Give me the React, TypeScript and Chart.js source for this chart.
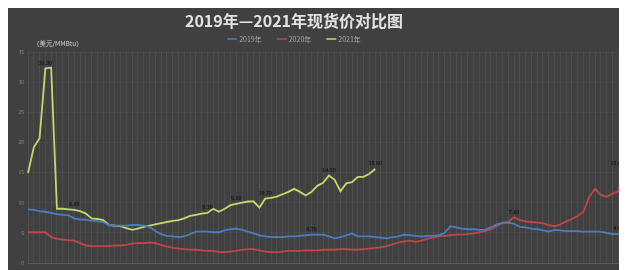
import { useEffect, useRef } from 'react';
import { Chart, registerables } from 'chart.js';

Chart.register(...registerables);

const TITLE = '2019年—2021年现货价对比图';
const UNIT = '（美元/MMBtu）';
const seriesNames = ['2019年', '2020年', '2021年'];
const seriesColors = ['#4b7cc0', '#c04545', '#c0da6c'];

const yTicks = [0, 5, 10, 15, 20, 25, 30, 35];

// half-week sampling points through the year
const categories = Array.from({ length: 104 }, (_, i) => `第${Math.floor(i / 2) + 1}周${i % 2 ? '下' : '上'}`);

const price2019 = [
  8.9, 8.8, 8.6, 8.5, 8.3, 8.1, 8.0, 7.9, 7.4, 7.2,
  7.2, 7.0, 6.9, 6.8, 6.3, 6.2, 6.2, 6.2, 6.3, 6.3,
  6.2, 6.0, 5.3, 4.8, 4.5, 4.4, 4.3, 4.4, 4.8, 5.2,
  5.2, 5.2, 5.1, 5.1, 5.4, 5.6, 5.7, 5.5, 5.2, 4.9,
  4.6, 4.4, 4.3, 4.3, 4.3, 4.4, 4.4, 4.5, 4.6, 4.7,
  4.7, 4.7, 4.4, 4.1, 4.3, 4.6, 4.9, 4.4, 4.4, 4.4,
  4.3, 4.2, 4.1, 4.3, 4.4, 4.7, 4.6, 4.5, 4.4, 4.5,
  4.5, 4.6, 5.0, 6.1, 5.9, 5.7, 5.6, 5.6, 5.5, 5.5,
  5.9, 6.4, 6.6, 6.7, 6.5, 6.0, 5.9, 5.7, 5.6, 5.4,
  5.2, 5.5, 5.4, 5.3, 5.3, 5.3, 5.2, 5.2, 5.2, 5.2,
  5.0, 4.8, 4.8, 4.9,
];

const price2020 = [
  5.1, 5.1, 5.1, 5.1, 4.3, 4.0, 3.9, 3.8, 3.7, 3.3,
  2.9, 2.8, 2.8, 2.8, 2.8, 2.9, 2.9, 3.0, 3.2, 3.3,
  3.3, 3.4, 3.3, 3.0, 2.7, 2.5, 2.4, 2.3, 2.2, 2.2,
  2.1, 2.0, 2.0, 1.8, 1.8, 1.9, 2.0, 2.2, 2.3, 2.3,
  2.1, 1.9, 1.8, 1.8, 1.9, 2.0, 2.0, 2.0, 2.1, 2.1,
  2.1, 2.2, 2.2, 2.2, 2.3, 2.3, 2.2, 2.2, 2.3, 2.4,
  2.5, 2.6, 2.8, 3.1, 3.4, 3.6, 3.7, 3.5, 3.7, 4.0,
  4.2, 4.4, 4.5, 4.6, 4.7, 4.7, 4.8, 4.9, 5.1, 5.3,
  5.6, 6.1, 6.7, 6.8, 7.6, 7.1, 6.9, 6.8, 6.7, 6.6,
  6.3, 6.1, 6.4, 6.9, 7.3, 7.8, 8.5, 11.0, 12.3, 11.3,
  11.0, 11.5, 11.9, 15.6,
];

const price2021 = [
  14.9, 19.2, 20.7, 32.3, 32.4, 9.0, 9.0, 8.9, 8.8, 8.6,
  8.2, 7.4, 7.3, 7.1, 6.3, 6.2, 6.1, 5.8, 5.5, 5.7,
  6.0, 6.2, 6.4, 6.6, 6.8, 7.0, 7.1, 7.4, 7.8, 8.0,
  8.2, 8.3, 9.0, 8.5, 9.0, 9.6, 9.8, 10.0, 10.2, 10.2,
  9.2, 10.7, 10.8, 11.0, 11.4, 11.8, 12.3, 11.8, 11.2, 11.8,
  12.8, 13.3, 14.5, 13.8, 11.9, 13.2, 13.4, 14.3, 14.3, 14.8,
  15.6,
];

// which points carry a value label, per series
const labeled2019 = [49, 103];
const labeled2020 = [84, 103];
const labeled2021 = [3, 8, 31, 36, 41, 52, 60];

const FONT = "'Noto Sans CJK SC', 'Noto Sans', sans-serif";

const overlayPlugin = {
  id: 'overlay',
  afterDatasetsDraw(chart: any) {
    const ctx = chart.ctx;
    const lists = [labeled2019, labeled2020, labeled2021];
    ctx.save();
    ctx.font = `bold 5px ${FONT}`;
    ctx.fillStyle = '#161616';
    ctx.textBaseline = 'bottom';
    lists.forEach((list, di) => {
      const meta = chart.getDatasetMeta(di);
      const data = chart.data.datasets[di].data as number[];
      list.forEach((idx) => {
        const el = meta.data[idx];
        if (!el) return;
        const nearRight = el.x > chart.chartArea.right - 12;
        ctx.textAlign = nearRight ? 'right' : 'center';
        ctx.fillText(data[idx].toFixed(2), el.x, el.y - 3);
      });
    });
    ctx.restore();
  },
  afterDraw(chart: any) {
    const ctx = chart.ctx;
    const cx = 286;
    ctx.save();
    // title
    ctx.font = `bold 16px ${FONT}`;
    ctx.fillStyle = '#e2e2e2';
    ctx.textAlign = 'center';
    ctx.textBaseline = 'middle';
    ctx.fillText(TITLE, cx, 13);
    // legend
    ctx.font = `7px ${FONT}`;
    const lineW = 10;
    const gap = 15;
    const widths = chart.data.datasets.map((d: any) => lineW + 2 + ctx.measureText(d.label).width);
    const total = widths.reduce((a: number, b: number) => a + b, 0) + gap * (widths.length - 1);
    let x = cx - total / 2;
    const ly = 31;
    chart.data.datasets.forEach((d: any, i: number) => {
      ctx.strokeStyle = d.borderColor;
      ctx.lineWidth = 1.5;
      ctx.beginPath();
      ctx.moveTo(x, ly);
      ctx.lineTo(x + lineW, ly);
      ctx.stroke();
      ctx.fillStyle = '#a8a8a8';
      ctx.textAlign = 'left';
      ctx.fillText(d.label, x + lineW + 2, ly);
      x += widths[i] + gap;
    });
    // unit
    ctx.font = `6.5px ${FONT}`;
    ctx.fillStyle = '#cfcfcf';
    ctx.textAlign = 'left';
    ctx.fillText(UNIT, 25, 36);
    ctx.restore();
  },
};

export default function App() {
  const ref = useRef<HTMLCanvasElement | null>(null);

  useEffect(() => {
    document.body.style.overflow = 'hidden';
    if (!ref.current) return;
    const chart = new Chart(ref.current, {
      type: 'line',
      data: {
        labels: categories,
        datasets: [
          { label: seriesNames[0], data: price2019, borderColor: seriesColors[0] },
          { label: seriesNames[1], data: price2020, borderColor: seriesColors[1] },
          { label: seriesNames[2], data: price2021, borderColor: seriesColors[2] },
        ].map((d) => ({
          ...d,
          borderWidth: 1.8,
          pointRadius: 0,
          tension: 0,
          fill: false,
          backgroundColor: d.borderColor,
        })),
      },
      options: {
        animation: false,
        responsive: true,
        maintainAspectRatio: false,
        layout: { padding: { top: 44, left: 0, right: 3, bottom: 5 } },
        plugins: {
          legend: { display: false },
          title: { display: false },
          tooltip: { enabled: false },
        },
        scales: {
          x: {
            offset: false,
            ticks: { display: false, autoSkip: false },
            grid: { color: 'rgba(255,255,255,0.07)', drawTicks: false },
            border: { color: '#5c5c5c' },
          },
          y: {
            min: 0,
            max: 35,
            afterFit: (s: any) => { s.width = 20; },
            afterBuildTicks: (s: any) => { s.ticks = yTicks.map((v) => ({ value: v })); },
            ticks: { color: '#8c8c8c', font: { size: 5, family: FONT }, padding: 4 },
            grid: { color: 'rgba(255,255,255,0.035)', drawTicks: false },
            border: { display: false },
          },
        },
      },
      plugins: [overlayPlugin],
    });
    return () => chart.destroy();
  }, []);

  return (
    <div style={{ width: 619, height: 262, background: '#404040', position: 'relative' }}>
      <canvas ref={ref} />
    </div>
  );
}
